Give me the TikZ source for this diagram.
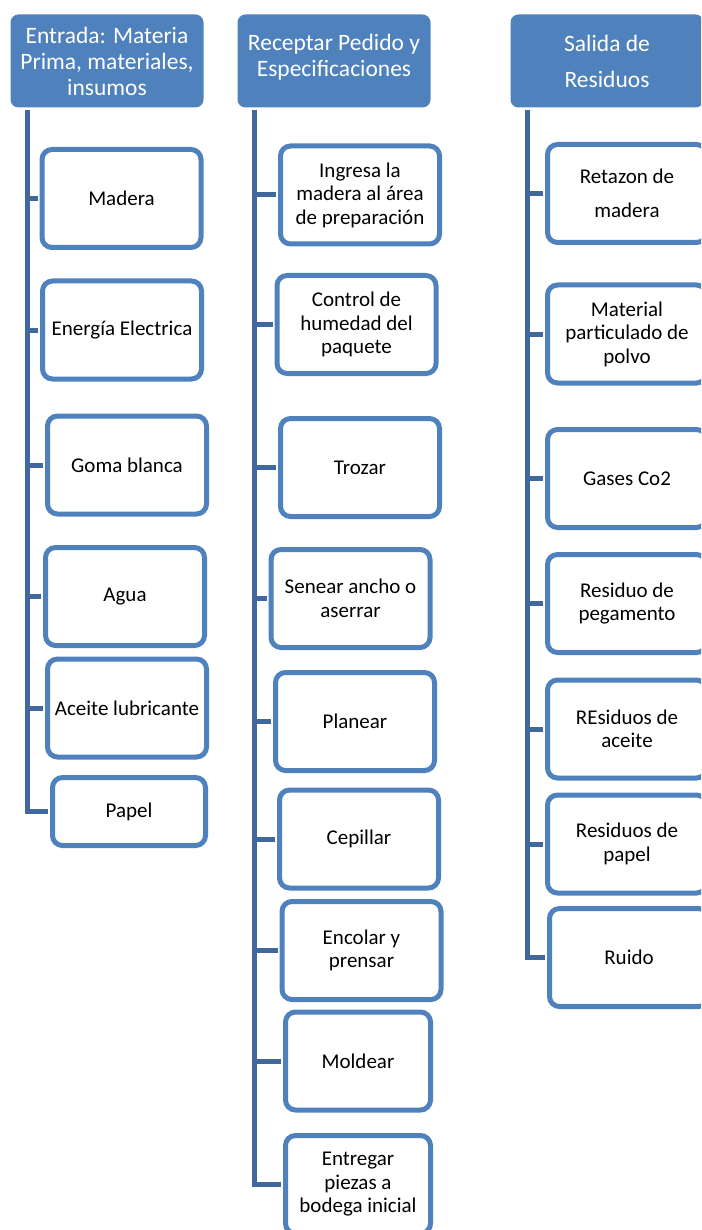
\documentclass[tikz,border=0pt]{standalone}
\usepackage{fontspec}
\setmainfont{Carlito}
\definecolor{boxblue}{RGB}{79,129,189}
\definecolor{linkblue}{RGB}{64,104,156}

\tikzstyle{head}=[fill=boxblue, text=white, rounded corners=8pt, inner sep=0pt,
  minimum width=193pt, minimum height=93pt, align=center,
  font=\fontsize{23.5}{26}\selectfont]
\tikzstyle{item}=[draw=boxblue, line width=5pt, fill=white, rounded corners=10pt,
  inner sep=0pt, minimum width=159pt, minimum height=98pt, align=center,
  font=\fontsize{21}{23.5}\selectfont]
\tikzstyle{narrow}=[item, minimum width=145pt]
\tikzstyle{link}=[draw=linkblue, line width=5pt, line join=miter, shorten >=2pt]

\begin{document}
\begin{tikzpicture}[x=1pt, y=-1pt]
  \clip (0,0) rectangle (701,1230);
  \useasboundingbox (0,0) rectangle (701,1230);

  % headers
  \node[head] (h1) at (107,61)   {Entrada: Materia\\Prima, materiales,\\insumos};
  \node[head, text depth=12pt] (h2) at (334,61) {Receptar Pedido y\\Especificaciones};
  \node[head, font=\fontsize{23.5}{36}\selectfont] (h3) at (607,61) {Salida de\\Residuos};

  % entradas
  \node[item] (madera)  at (121.5,198.5) {Madera};
  \node[item] (energia) at (122,330)     {Energía Electrica};
  \node[item] (goma)    at (127,465)     {Goma blanca};
  \node[item] (agua)    at (125,596.5)   {Agua};
  \node[item] (aceite)  at (127,708)     {Aceite lubricante};
  \node[item, minimum width=153pt, minimum height=68pt] (papel) at (129,811.5) {Papel};

  % proceso
  \node[item]   (ingresa)  at (360,195)    {Ingresa la\\madera al área\\de preparación};
  \node[item]   (control)  at (356.5,324.5) {Control de\\humedad del\\paquete};
  \node[item]   (trozar)   at (360,467.5)  {Trozar};
  \node[item]   (senear)   at (350.5,598.5) {Senear ancho o\\aserrar};
  \node[item]   (planear)  at (355,721.5)  {Planear};
  \node[item]   (cepillar) at (359,839)    {Cepillar};
  \node[item]   (encolar)  at (361.5,950.5) {Encolar y\\prensar};
  \node[narrow] (moldear)  at (358,1061)   {Moldear};
  \node[narrow] (entregar) at (358,1184.5) {Entregar\\piezas a\\bodega inicial};

  % salidas
  \node[item, font=\fontsize{21}{34}\selectfont] (retazon) at (627,193.5) {Retazon de\\madera};
  \node[item] (polvo)    at (627,334)   {Material\\particulado de\\polvo};
  \node[item] (gases)    at (627,478.5) {Gases Co2};
  \node[item] (pegam)    at (627,603.5) {Residuo de\\pegamento};
  \node[item] (resaceite) at (627,729)  {REsiduos de\\aceite};
  \node[item] (respapel) at (627,844)   {Residuos de\\papel};
  \node[item] (ruido)    at (629,957.5) {Ruido};

  % conectores
  \coordinate (t1) at (27,110);
  \coordinate (t2) at (254.5,110);
  \coordinate (t3) at (527.5,110);

  \draw[link] (t1) |- (papel.west);
  \draw[link] (t1 |- madera.west)  -- (madera.west);
  \draw[link] (t1 |- energia.west) -- (energia.west);
  \draw[link] (t1 |- goma.west)    -- (goma.west);
  \draw[link] (t1 |- agua.west)    -- (agua.west);
  \draw[link] (t1 |- aceite.west)  -- (aceite.west);

  \draw[link] (t2) |- (entregar.west);
  \draw[link] (t2 |- ingresa.west)  -- (ingresa.west);
  \draw[link] (t2 |- control.west)  -- (control.west);
  \draw[link] (t2 |- trozar.west)   -- (trozar.west);
  \draw[link] (t2 |- senear.west)   -- (senear.west);
  \draw[link] (t2 |- planear.west)  -- (planear.west);
  \draw[link] (t2 |- cepillar.west) -- (cepillar.west);
  \draw[link] (t2 |- encolar.west)  -- (encolar.west);
  \draw[link] (t2 |- moldear.west)  -- (moldear.west);

  \draw[link] (t3) |- (ruido.west);
  \draw[link] (t3 |- retazon.west)   -- (retazon.west);
  \draw[link] (t3 |- polvo.west)     -- (polvo.west);
  \draw[link] (t3 |- gases.west)     -- (gases.west);
  \draw[link] (t3 |- pegam.west)     -- (pegam.west);
  \draw[link] (t3 |- resaceite.west) -- (resaceite.west);
  \draw[link] (t3 |- respapel.west)  -- (respapel.west);
\end{tikzpicture}
\end{document}
